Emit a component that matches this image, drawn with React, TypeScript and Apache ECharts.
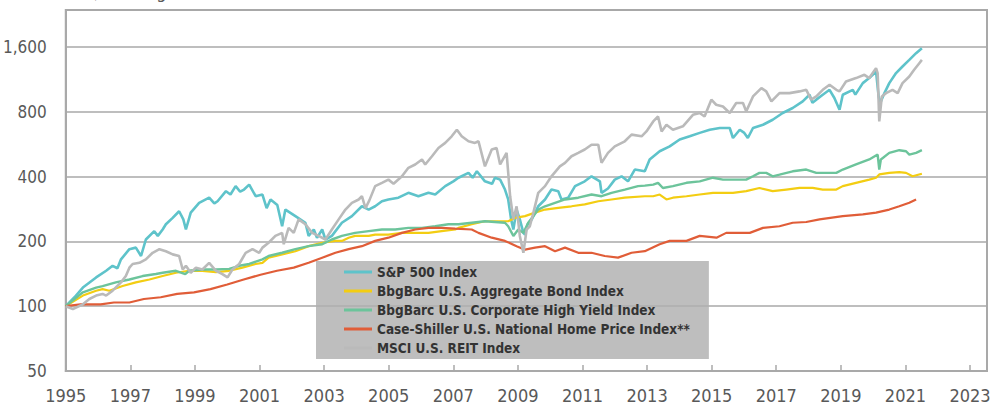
import React, { useEffect, useRef } from 'react';
import * as echarts from 'echarts';

// [year, index level] — growth of 100 starting 1995
const sp500: number[][] = [
  [1995.0,100],[1995.27,110],[1995.53,122],[1995.94,136],[1996.25,146],[1996.45,154],[1996.6,150],[1996.71,165],[1996.97,184],[1997.17,187],[1997.33,171],[1997.48,204],[1997.74,223],[1997.85,212],[1998.0,227],[1998.1,240],[1998.31,257],[1998.51,276],[1998.64,253],[1998.72,227],[1998.87,272],[1999.13,302],[1999.44,319],[1999.6,300],[1999.7,307],[1999.96,342],[2000.1,330],[2000.26,361],[2000.4,340],[2000.52,348],[2000.68,367],[2000.88,324],[2001.09,330],[2001.22,285],[2001.34,313],[2001.55,295],[2001.7,235],[2001.8,281],[2002.11,262],[2002.42,244],[2002.52,212],[2002.68,227],[2002.78,208],[2002.94,227],[2003.04,204],[2003.24,212],[2003.55,244],[2003.86,262],[2004.17,291],[2004.38,281],[2004.58,291],[2004.79,307],[2004.99,313],[2005.3,319],[2005.61,336],[2005.92,324],[2006.23,336],[2006.44,330],[2006.75,361],[2007.0,380],[2007.16,395],[2007.47,416],[2007.6,395],[2007.73,423],[2007.98,380],[2008.2,370],[2008.29,395],[2008.45,387],[2008.6,348],[2008.7,313],[2008.79,253],[2008.86,227],[2008.96,281],[2009.06,253],[2009.17,219],[2009.22,215],[2009.3,240],[2009.43,253],[2009.63,291],[2009.84,313],[2010.04,348],[2010.25,342],[2010.35,313],[2010.56,319],[2010.77,361],[2011.07,380],[2011.28,401],[2011.54,380],[2011.59,336],[2011.79,352],[2012.0,387],[2012.21,401],[2012.41,380],[2012.62,431],[2012.93,423],[2013.08,480],[2013.39,524],[2013.7,552],[2014.01,594],[2014.32,615],[2014.63,638],[2014.94,660],[2015.25,672],[2015.56,672],[2015.66,604],[2015.87,660],[2016.0,640],[2016.12,604],[2016.28,672],[2016.59,696],[2016.89,734],[2017.2,789],[2017.51,832],[2017.82,893],[2018.03,959],[2018.12,880],[2018.24,910],[2018.44,959],[2018.65,1011],[2018.8,926],[2018.96,817],[2019.06,959],[2019.37,1011],[2019.45,960],[2019.68,1086],[2019.88,1146],[2020.09,1230],[2020.17,942],[2020.22,878],[2020.35,976],[2020.5,1086],[2020.71,1209],[2020.91,1297],[2021.12,1392],[2021.33,1496],[2021.51,1578]
];

const aggBond: number[][] = [
  [1995.0,100],[1995.53,112],[1995.94,118],[1996.14,120],[1996.35,118],[1996.76,124],[1997.17,129],[1997.59,133],[1998.0,138],[1998.41,143],[1998.82,146],[1999.23,146],[1999.65,144],[2000.06,146],[2000.47,151],[2000.88,157],[2001.09,159],[2001.28,168],[2001.7,174],[2002.11,180],[2002.52,190],[2002.94,197],[2003.35,201],[2003.55,201],[2003.76,208],[2003.96,212],[2004.38,212],[2004.58,215],[2004.99,215],[2005.41,219],[2005.82,219],[2006.23,219],[2006.64,223],[2007.06,227],[2007.16,231],[2007.57,240],[2007.98,248],[2008.39,248],[2008.7,248],[2008.91,257],[2009.22,262],[2009.53,272],[2009.84,281],[2010.25,286],[2010.66,291],[2011.07,297],[2011.49,307],[2011.9,313],[2012.31,319],[2012.93,324],[2013.19,324],[2013.39,330],[2013.6,313],[2013.8,319],[2014.22,324],[2014.63,330],[2015.04,336],[2015.35,336],[2015.66,336],[2016.07,342],[2016.48,354],[2016.89,342],[2017.31,348],[2017.72,354],[2018.13,354],[2018.44,348],[2018.86,348],[2019.06,361],[2019.47,374],[2019.88,387],[2020.09,395],[2020.19,409],[2020.5,416],[2020.81,419],[2021.02,416],[2021.22,401],[2021.51,412]
];

const highYield: number[][] = [
  [1995.0,100],[1995.53,116],[1995.94,122],[1996.14,124],[1996.55,129],[1996.97,133],[1997.38,138],[1997.79,141],[1998.0,143],[1998.41,146],[1998.7,141],[1998.82,146],[1999.23,148],[1999.65,148],[2000.06,149],[2000.37,154],[2000.68,157],[2001.09,165],[2001.28,171],[2001.7,177],[2002.11,184],[2002.52,190],[2002.94,194],[2003.24,204],[2003.55,212],[2003.96,219],[2004.38,223],[2004.79,227],[2005.2,227],[2005.61,231],[2006.03,231],[2006.44,235],[2006.85,240],[2007.16,240],[2007.57,244],[2007.98,248],[2008.29,246],[2008.6,244],[2008.7,235],[2008.86,212],[2009.01,227],[2009.17,219],[2009.32,244],[2009.48,262],[2009.63,281],[2009.84,291],[2010.15,302],[2010.46,313],[2010.87,319],[2011.28,330],[2011.59,324],[2011.9,336],[2012.31,348],[2012.72,361],[2012.93,363],[2013.19,367],[2013.34,374],[2013.49,354],[2013.8,361],[2014.22,374],[2014.63,380],[2015.04,395],[2015.35,387],[2015.66,387],[2016.07,387],[2016.28,401],[2016.48,416],[2016.69,416],[2016.89,401],[2017.1,408],[2017.51,423],[2017.93,431],[2018.24,416],[2018.44,416],[2018.86,416],[2019.06,431],[2019.47,455],[2019.88,480],[2020.14,506],[2020.19,431],[2020.24,480],[2020.5,515],[2020.81,530],[2021.02,524],[2021.12,506],[2021.33,515],[2021.51,530]
];

const caseShiller: number[][] = [
  [1995.0,100],[1995.46,102],[1996.08,102],[1996.49,104],[1996.97,104],[1997.42,108],[1997.94,110],[1998.45,114],[1998.97,116],[1999.48,120],[2000.0,126],[2000.51,133],[2001.03,140],[2001.54,146],[2002.06,151],[2002.52,159],[2002.94,168],[2003.35,177],[2003.76,184],[2004.17,190],[2004.58,201],[2004.99,208],[2005.41,219],[2005.82,227],[2006.23,231],[2006.64,231],[2007.06,229],[2007.57,227],[2007.78,219],[2008.19,208],[2008.6,201],[2008.96,190],[2009.22,183],[2009.53,187],[2009.84,190],[2010.15,180],[2010.46,187],[2010.87,177],[2011.28,177],[2011.69,171],[2012.1,168],[2012.52,177],[2012.93,180],[2013.39,194],[2013.7,201],[2014.22,201],[2014.63,212],[2015.15,208],[2015.45,219],[2016.18,219],[2016.59,231],[2017.1,235],[2017.51,244],[2017.93,246],[2018.34,253],[2019.06,262],[2019.68,267],[2020.09,272],[2020.5,281],[2020.81,291],[2021.12,302],[2021.33,313]
];

const reit: number[][] = [
  [1995.0,100],[1995.22,97],[1995.53,102],[1995.73,108],[1995.94,112],[1996.14,114],[1996.25,112],[1996.45,118],[1996.71,129],[1996.86,138],[1996.97,151],[1997.07,157],[1997.28,159],[1997.48,165],[1997.69,177],[1997.9,184],[1998.1,180],[1998.31,174],[1998.51,171],[1998.62,148],[1998.72,154],[1998.87,143],[1999.03,151],[1999.23,148],[1999.44,159],[1999.65,146],[1999.85,141],[2000.01,136],[2000.16,148],[2000.37,157],[2000.57,177],[2000.78,184],[2000.99,177],[2001.09,187],[2001.28,197],[2001.49,212],[2001.7,219],[2001.75,194],[2001.9,231],[2002.06,219],[2002.21,253],[2002.42,240],[2002.63,219],[2002.83,212],[2003.04,204],[2003.24,227],[2003.45,253],[2003.66,281],[2003.86,302],[2004.07,313],[2004.17,324],[2004.28,285],[2004.4,310],[2004.58,361],[2004.79,374],[2004.99,387],[2005.15,370],[2005.41,401],[2005.61,439],[2005.82,455],[2006.03,480],[2006.13,455],[2006.34,497],[2006.54,543],[2006.75,573],[2006.95,615],[2007.11,660],[2007.26,615],[2007.47,583],[2007.67,573],[2007.78,583],[2007.98,446],[2008.19,534],[2008.34,543],[2008.45,455],[2008.65,515],[2008.76,324],[2008.86,253],[2008.96,291],[2009.06,212],[2009.17,177],[2009.27,227],[2009.37,235],[2009.48,272],[2009.63,336],[2009.84,361],[2010.04,401],[2010.3,446],[2010.46,463],[2010.66,497],[2010.87,515],[2011.07,534],[2011.28,562],[2011.49,562],[2011.59,463],[2011.79,515],[2012.0,552],[2012.31,583],[2012.52,626],[2012.83,615],[2012.98,648],[2013.19,721],[2013.34,760],[2013.45,648],[2013.6,696],[2013.8,660],[2014.11,684],[2014.42,774],[2014.63,789],[2014.78,760],[2014.99,910],[2015.14,862],[2015.35,846],[2015.56,789],[2015.76,878],[2015.97,878],[2016.07,803],[2016.28,942],[2016.54,1030],[2016.69,994],[2016.85,893],[2017.1,976],[2017.41,976],[2017.72,994],[2017.93,1011],[2018.08,910],[2018.24,942],[2018.44,1011],[2018.65,1067],[2018.86,1011],[2018.96,994],[2019.16,1105],[2019.47,1146],[2019.73,1187],[2019.88,1146],[2020.09,1275],[2020.14,1209],[2020.19,721],[2020.27,942],[2020.4,976],[2020.6,1011],[2020.76,976],[2020.91,1086],[2021.12,1166],[2021.27,1252],[2021.43,1344],[2021.51,1392]
];

const seriesNames = [
  'S&P 500 Index',
  'BbgBarc U.S. Aggregate Bond Index',
  'BbgBarc U.S. Corporate High Yield Index',
  'Case-Shiller U.S. National Home Price Index**',
  'MSCI U.S. REIT Index',
];
const seriesData = [sp500, aggBond, highYield, caseShiller, reit];
const seriesColors = ['#5ec3ca', '#f3cd12', '#6cc49b', '#e05d38', '#bababa'];
const seriesWidths = [2.6, 2.2, 2.4, 2.2, 2.6];

const yBase = 50; // lowest tick of the log (base 2) scale
const yTopLog = 5.569; // top of plot in doublings above the base
const xMin = 1995;
const xMax = 2023.526;
const titleText = 'Growth of $100, log scale';

const FONT = "'Liberation Sans Narrow', 'Arial Narrow', 'DejaVu Sans Condensed', sans-serif";

export default function App() {
  const ref = useRef<HTMLDivElement>(null);
  useEffect(() => {
    if (!ref.current) return;
    const chart = echarts.init(ref.current, undefined, { renderer: 'svg' });
    const toLog = (v: number) => Math.log2(v / yBase);
    chart.setOption({
      animation: false,
      backgroundColor: '#ffffff',
      grid: {
        left: 65, right: 11, top: 10, bottom: 32,
        show: true, borderColor: '#a9a9a9', borderWidth: 2, backgroundColor: 'transparent',
      },
      graphic: [
        {
          type: 'text', left: 6, top: -18, z: 10,
          style: { text: titleText, font: `18px ${FONT}`, fill: '#595959' },
        },
      ],
      legend: {
        data: seriesNames,
        orient: 'vertical',
        left: 316, top: 261,
        itemWidth: 28, itemHeight: 15, itemGap: 5,
        padding: [4, 19, 4, 28],
        icon: 'path://M0,0H28V3H0Z',
        backgroundColor: 'rgba(176,176,176,0.82)',
        textStyle: { fontFamily: FONT, fontWeight: 'bold', fontSize: 13.5, color: '#333333' },
        selectedMode: false,
        z: 20,
      },
      xAxis: {
        type: 'value', min: xMin, max: xMax, interval: 2,
        axisLine: { show: true, lineStyle: { color: '#a9a9a9', width: 2 } },
        axisTick: { show: true, inside: true, length: 6, lineStyle: { color: '#a9a9a9', width: 1.5 } },
        splitLine: { show: false },
        axisLabel: {
          margin: 15, showMaxLabel: false, color: '#595959', fontFamily: FONT, fontSize: 18,
          formatter: (v: number) => (Number.isInteger(v) ? String(v) : ''),
        },
      },
      yAxis: {
        type: 'value', min: 0, max: yTopLog, interval: 1,
        axisLine: { show: true, lineStyle: { color: '#a9a9a9', width: 2 } },
        axisTick: { show: false },
        splitLine: { show: true, lineStyle: { color: '#a9a9a9', width: 1.5 } },
        axisLabel: {
          margin: 19, showMaxLabel: false, color: '#595959', fontFamily: FONT, fontSize: 17,
          formatter: (v: number) =>
            Number.isInteger(v) ? Math.round(yBase * Math.pow(2, v)).toLocaleString('en-US') : '',
        },
      },
      series: seriesNames.map((name, i) => ({
        name,
        type: 'line',
        symbol: 'none',
        z: 2 + i,
        lineStyle: { color: seriesColors[i], width: seriesWidths[i] },
        itemStyle: { color: seriesColors[i] },
        data: seriesData[i].map(([x, v]) => [x, toLog(v)]),
      })),
    });
    return () => chart.dispose();
  }, []);
  return <div ref={ref} style={{ position: 'fixed', left: 0, top: 0, width: 998, height: 404 }} />;
}
